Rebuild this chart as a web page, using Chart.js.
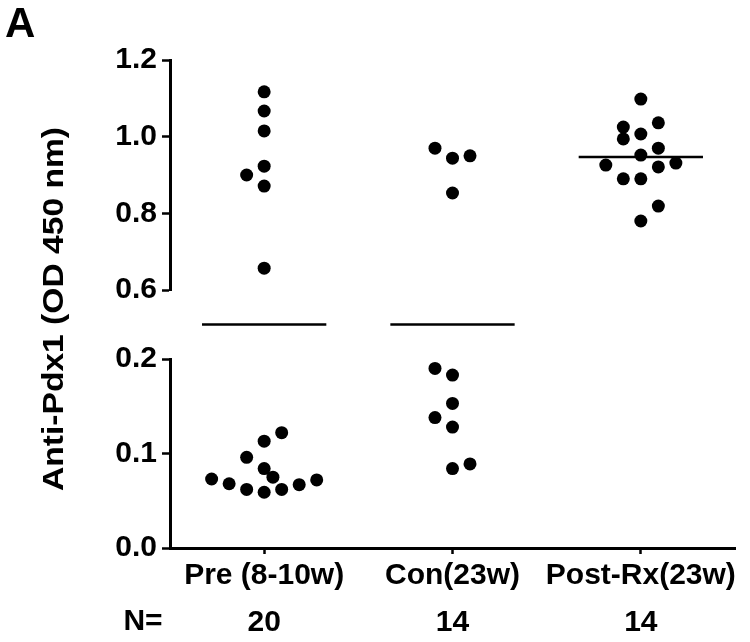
<!DOCTYPE html>
<html>
<head>
<meta charset="utf-8">
<script src="https://cdn.jsdelivr.net/npm/chart.js@4.4.1/dist/chart.umd.min.js"></script>
<style>
  html, body { margin: 0; padding: 0; background: #fff; }
  #chart { display: block; }
</style>
</head>
<body>
<canvas id="chart" width="750" height="642"></canvas>
<script>
// groups and sample sizes
const groups = ['Pre (8-10w)', 'Con(23w)', 'Post-Rx(23w)'];
const groupN = ['20', '14', '14'];

// OD values, with horizontal jitter (in dot widths)
const preValues = [1.117, 1.067, 1.015, 0.923, 0.900, 0.871, 0.657,
  0.073, 0.068, 0.062, 0.059, 0.062, 0.067, 0.072, 0.096, 0.113, 0.122, 0.084, 0.075];
const preJitter = [0, 0, 0, 0, -1, 0, 0,
  -3, -2, -1, 0, 1, 2, 3, -1, 0, 1, 0, 0.5];

const conValues = [0.970, 0.944, 0.950, 0.853,
  0.190, 0.183, 0.153, 0.138, 0.128, 0.089, 0.084];
const conJitter = [-1, 0, 1, 0, -1, 0, 0, -1, 0, 1, 0];

const postValues = [1.098, 1.036, 1.025, 1.007, 0.994, 0.970, 0.952,
  0.926, 0.931, 0.921, 0.890, 0.890, 0.819, 0.780];
const postJitter = [0, 1, -1, 0, -1, 1, 0, -2, 2, 1, -1, 0, 1, 0];

// group means (Pre and Con fall inside the axis break)
const meanValues = [0.40, 0.40, 0.947];

// tick labels of the two axis segments
const topTicks = [0.6, 0.8, 1.0, 1.2];
const bottomTicks = [0.0, 0.1, 0.2];

const JITTER_STEP = 0.093;
const MEAN_HALF = 0.33;
const FONT = '"Liberation Sans", Arial, sans-serif';

function axisFor(v) {
  if (v >= 0.6) return 'yTop';
  if (v <= 0.2) return 'yBot';
  return 'yGap';
}

const allValues = [preValues, conValues, postValues];
const allJitter = [preJitter, conJitter, postJitter];

const datasets = [];
allValues.forEach((vals, g) => {
  ['yTop', 'yBot'].forEach(axis => {
    const pts = [];
    vals.forEach((v, i) => {
      if (axisFor(v) === axis) pts.push({ x: g + allJitter[g][i] * JITTER_STEP, y: v });
    });
    datasets.push({
      type: 'scatter',
      data: pts,
      yAxisID: axis,
      pointRadius: 6.5,
      pointBackgroundColor: '#000',
      pointBorderWidth: 0
    });
  });
  datasets.push({
    type: 'line',
    data: [{ x: g - MEAN_HALF, y: meanValues[g] }, { x: g + MEAN_HALF, y: meanValues[g] }],
    yAxisID: axisFor(meanValues[g]),
    borderColor: '#000',
    borderWidth: 2.5,
    pointRadius: 0,
    fill: false
  });
});

const extraText = {
  id: 'extraText',
  afterDraw(chart) {
    const ctx = chart.ctx;
    ctx.save();
    ctx.fillStyle = '#000';
    ctx.font = 'bold 42px ' + FONT;
    ctx.textAlign = 'left';
    ctx.textBaseline = 'alphabetic';
    ctx.fillText('A', 5, 37);

    ctx.font = 'bold 30px ' + FONT;
    ctx.textAlign = 'center';
    ctx.textBaseline = 'middle';
    ctx.fillText('N=', 143, 622);

    // y title, slightly stretched along its length like the original
    ctx.translate(55, 309);
    ctx.rotate(-Math.PI / 2);
    ctx.scale(1.12, 1);
    ctx.fillText('Anti-Pdx1 (OD 450 nm)', 0, 0);
    ctx.restore();
  }
};

const yCommon = (ticks) => ({
  type: 'linear',
  position: 'left',
  stack: 'y',
  min: ticks[0],
  max: ticks[ticks.length - 1],
  afterBuildTicks: s => { s.ticks = ticks.map(v => ({ value: v })); },
  afterFit: s => { s.width = 170; },
  border: { display: true, color: '#000', width: 3 },
  grid: { drawOnChartArea: false, drawTicks: true, tickLength: 8, tickWidth: 2.5, tickColor: '#000' },
  ticks: {
    color: '#000',
    padding: 5,
    font: { family: FONT, size: 30, weight: 'bold' },
    callback: v => Number(v).toFixed(1)
  }
});

new Chart(document.getElementById('chart'), {
  data: { datasets },
  options: {
    responsive: false,
    animation: false,
    layout: { padding: { top: 60, right: 15, left: 0, bottom: 0 } },
    plugins: { legend: { display: false }, tooltip: { enabled: false } },
    scales: {
      x: {
        type: 'linear',
        position: 'bottom',
        min: -0.5,
        max: 2.5,
        afterBuildTicks: s => { s.ticks = groups.map((g, i) => ({ value: i })); },
        afterFit: s => { s.height = 94; },
        border: { display: true, color: '#000', width: 3 },
        grid: { drawOnChartArea: false, drawTicks: true, tickLength: 6, tickWidth: 2.5, tickColor: '#000' },
        ticks: {
          color: '#000',
          padding: -2,
          maxRotation: 0,
          font: { family: FONT, size: 30, weight: 'bold', lineHeight: 1.567 },
          callback: v => [groups[v], groupN[v]]
        }
      },
      yBot: Object.assign(yCommon(bottomTicks), { stackWeight: 189 }),
      yGap: {
        type: 'linear',
        position: 'left',
        stack: 'y',
        stackWeight: 69,
        min: 0.2,
        max: 0.6,
        display: false
      },
      yTop: Object.assign(yCommon(topTicks), { stackWeight: 230 })
    }
  },
  plugins: [extraText]
});
</script>
</body>
</html>
